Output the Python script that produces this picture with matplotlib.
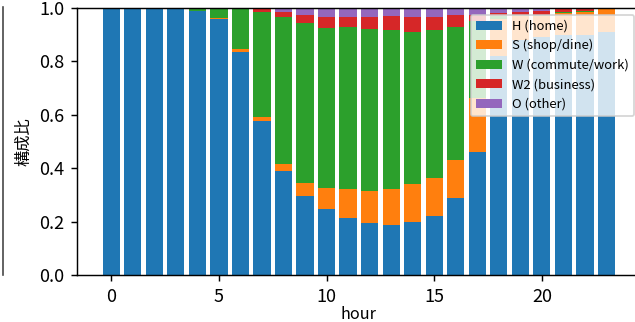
import matplotlib
matplotlib.use("Agg")
import matplotlib.pyplot as plt
from matplotlib.lines import Line2D
import numpy as np

plt.rcParams['font.family'] = ['Noto Sans CJK JP', 'DejaVu Sans']

hours = list(range(24))
H  = [1.0, 1.0, 1.0, 1.0, 0.99, 0.958, 0.835, 0.578, 0.39, 0.297, 0.246, 0.215, 0.196, 0.187, 0.197, 0.222, 0.29, 0.462, 0.82, 0.88, 0.89, 0.90, 0.90, 0.91]
S  = [0.0, 0.0, 0.0, 0.0, 0.0, 0.006, 0.011, 0.015, 0.025, 0.049, 0.079, 0.106, 0.119, 0.136, 0.145, 0.142, 0.141, 0.20, 0.14, 0.09, 0.08, 0.08, 0.085, 0.09]
W  = [0.0, 0.0, 0.0, 0.0, 0.01, 0.036, 0.152, 0.392, 0.55, 0.599, 0.601, 0.609, 0.606, 0.594, 0.567, 0.553, 0.496, 0.29, 0.01, 0.005, 0.005, 0.005, 0.005, 0.0]
W2 = [0.0, 0.0, 0.0, 0.0, 0.0, 0.0, 0.002, 0.015, 0.019, 0.029, 0.041, 0.037, 0.047, 0.052, 0.056, 0.050, 0.048, 0.02, 0.01, 0.01, 0.015, 0.015, 0.005, 0.0]
O  = [0.0, 0.0, 0.0, 0.0, 0.0, 0.0, 0.0, 0.0, 0.015, 0.026, 0.033, 0.033, 0.033, 0.030, 0.035, 0.033, 0.026, 0.028, 0.02, 0.015, 0.01, 0.0, 0.005, 0.0]

series = [("H (home)", H), ("S (shop/dine)", S), ("W (commute/work)", W),
          ("W2 (business)", W2), ("O (other)", O)]
colors = ['#1f77b4', '#ff7f0e', '#2ca02c', '#d62728', '#9467bd']

fig = plt.figure(figsize=(635/130, 322/130), dpi=130)
ax = fig.add_axes([77/635, 1-275/322, (640.7-77)/635, (275-8)/322])

bottom = np.zeros(len(hours))
for (lab, vals), c in zip(series, colors):
    v = np.array(vals)
    ax.bar(hours, v, bottom=bottom, width=0.8, color=c, label=lab)
    bottom += v

ax.set_ylim(0, 1.0)
ax.set_xlabel("hour", fontsize=9, labelpad=0)
ax.set_ylabel("構成比", fontsize=9)
ax.tick_params(labelsize=10)
ax.legend(loc='upper right', fontsize=7.2)

# right spine of neighbouring panel (cropped figure)
fig.add_artist(Line2D([3/635, 3/635], [1-275/322, 1-7/322], transform=fig.transFigure,
                      color='#444444', linewidth=0.9))

fig.savefig("out.png", dpi=130)
